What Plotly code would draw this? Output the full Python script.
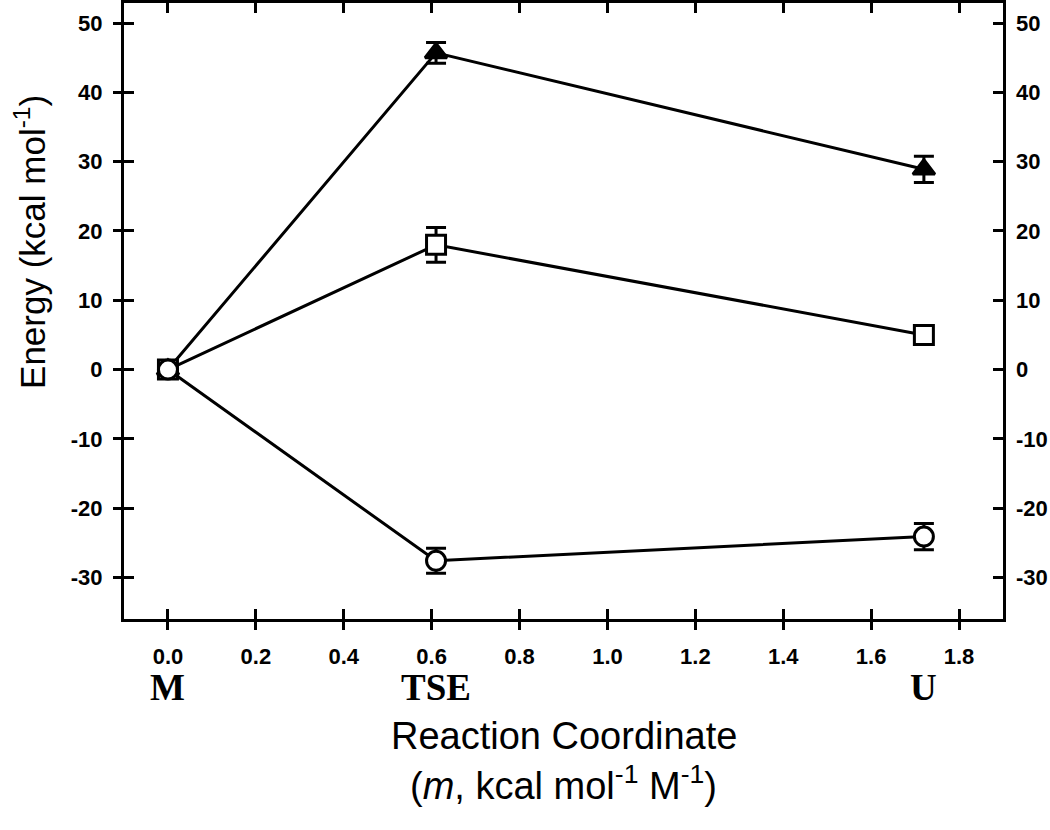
import plotly.graph_objects as go

x_vals = [0.0, 0.61, 1.72]
state_labels = ["M", "TSE", "U"]
tri_y = [0.0, 45.7, 28.9]
tri_err = [0.0, 1.5, 1.9]
sq_y = [0.0, 18.0, 5.0]
sq_err = [0.0, 2.5, 0.5]
circ_y = [0.0, -27.6, -24.1]
circ_err = [0.0, 1.8, 1.9]

x_ticks = [0.0, 0.2, 0.4, 0.6, 0.8, 1.0, 1.2, 1.4, 1.6, 1.8]
y_ticks = [-30, -20, -10, 0, 10, 20, 30, 40, 50]
x_range = [-0.1, 1.9]
y_range = [-36, 52.9]

x_text = [f"<b>{v:.1f}</b>" for v in x_ticks]
y_text = [f"<b>{v}</b>" for v in y_ticks]

fig = go.Figure()

def add_series(y, err, symbol, fill):
    fig.add_trace(go.Scatter(
        x=x_vals, y=y, mode="lines+markers",
        line=dict(color="black", width=3),
        marker=dict(symbol=symbol, size=19, color=fill, line=dict(color="black", width=3)),
        error_y=dict(type="data", array=err, visible=True, color="black", thickness=3, width=10),
        showlegend=False, cliponaxis=False, hoverinfo="skip",
    ))

add_series(tri_y, tri_err, "triangle-up", "black")
add_series(sq_y, sq_err, "square", "white")
add_series(circ_y, circ_err, "circle", "white")

tickfont = dict(family="Liberation Sans, Arial", size=22, color="black")

fig.update_layout(
    width=1050, height=830,
    margin=dict(l=124, r=47, t=3, b=211, autoexpand=False),
    paper_bgcolor="white", plot_bgcolor="white",
    xaxis=dict(range=x_range, tickvals=x_ticks, ticks="inside", ticklen=10, tickwidth=3,
               tickcolor="black", showline=True, linecolor="black", linewidth=3,
               mirror="ticks", showgrid=False, zeroline=False, showticklabels=False,
               automargin=False),
    xaxis2=dict(range=x_range, tickvals=x_ticks, ticktext=x_text,
                ticks="outside", ticklen=10, tickwidth=3, tickcolor="black",
                overlaying="x", side="bottom", anchor="y", showgrid=False, zeroline=False,
                showline=False, tickfont=tickfont, automargin=False, ticklabelstandoff=8),
    yaxis=dict(range=y_range, tickvals=y_ticks, ticks="inside", ticklen=10, tickwidth=3,
               tickcolor="black", showline=True, linecolor="black", linewidth=3,
               mirror="ticks", showgrid=False, zeroline=False, showticklabels=False,
               automargin=False),
    yaxis2=dict(range=y_range, tickvals=y_ticks, ticktext=y_text, ticks="outside",
                ticklen=10, tickwidth=3, tickcolor="black", overlaying="y", side="left",
                anchor="x", showgrid=False, zeroline=False, showline=False, tickfont=tickfont,
                ticklabelstandoff=6, automargin=False),
    yaxis3=dict(range=y_range, tickvals=y_ticks, ticktext=y_text, ticks="", overlaying="y",
                side="right", anchor="x", showgrid=False, zeroline=False, showline=False,
                tickfont=tickfont, ticklabelstandoff=12, automargin=False),
)

# invisible traces to activate overlay axes
fig.add_trace(go.Scatter(x=[None], y=[None], xaxis="x2", yaxis="y2", showlegend=False))
fig.add_trace(go.Scatter(x=[None], y=[None], xaxis="x", yaxis="y3", showlegend=False))

for xv, lab in zip(x_vals, state_labels):
    fig.add_annotation(x=xv, y=-0.112, xref="x", yref="paper", text=f"<b>{lab}</b>",
                       showarrow=False, yanchor="middle",
                       font=dict(family="Liberation Serif, Times New Roman", size=37, color="black"))

fig.add_annotation(x=0.5, y=-0.19, xref="paper", yref="paper", text="Reaction Coordinate",
                   showarrow=False, yanchor="middle",
                   font=dict(family="Liberation Sans, Arial", size=38, color="black"))
fig.add_annotation(x=0.5, y=-0.266, xref="paper", yref="paper",
                   text="(<i>m</i>, kcal mol<sup>-1</sup> M<sup>-1</sup>)",
                   showarrow=False, yanchor="middle",
                   font=dict(family="Liberation Sans, Arial", size=38, color="black"))
fig.add_annotation(x=-0.107, y=0.612, xref="paper", yref="paper",
                   text="Energy (kcal mol<sup>-1</sup>)", textangle=-90,
                   showarrow=False, xanchor="center", yanchor="middle",
                   font=dict(family="Liberation Sans, Arial", size=35, color="black"))

fig.write_html("out.html", config={"displayModeBar": False},
               post_script="document.body.style.margin='0px';")
